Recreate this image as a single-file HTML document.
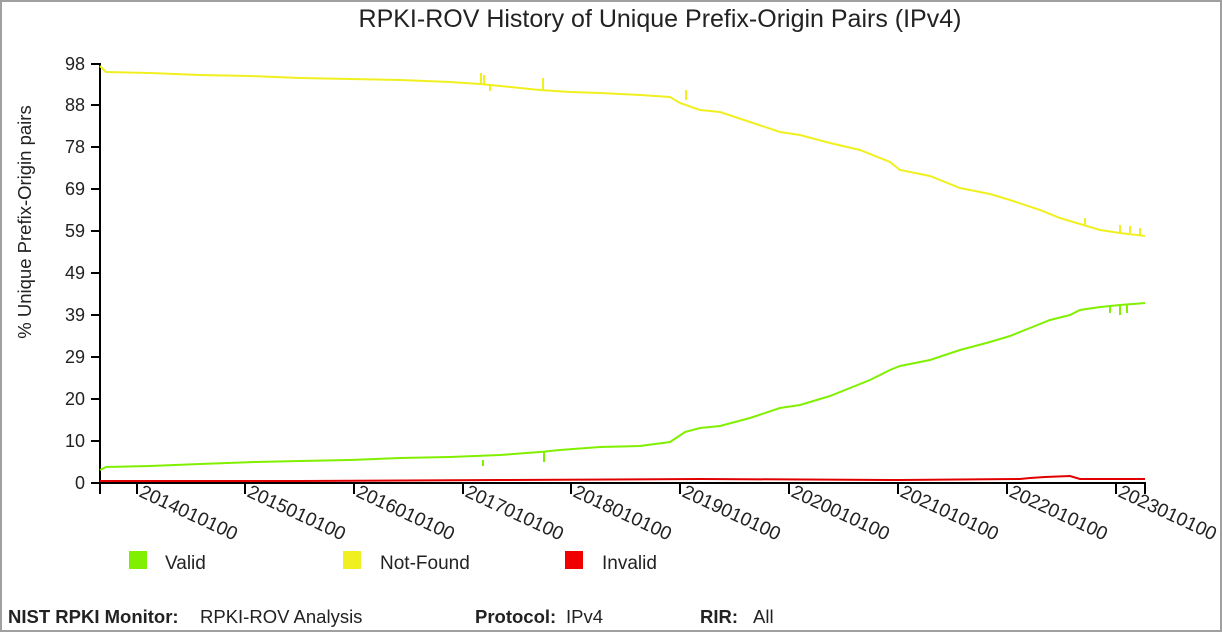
<!DOCTYPE html>
<html><head><style>
html,body{margin:0;padding:0;background:#fff}
body{width:1222px;height:632px;overflow:hidden;position:relative}
.frame{position:absolute;left:0;top:0;width:1218px;height:628px;border:2px solid #a0a0a0}
svg{position:absolute;left:0;top:0}
text{font-family:"Liberation Sans",Arial,sans-serif;fill:#222}
</style></head><body>
<div class="frame"></div>
<svg width="1222" height="632" viewBox="0 0 1222 632">
<text x="660" y="27" font-size="25" text-anchor="middle">RPKI-ROV History of Unique Prefix-Origin Pairs (IPv4)</text>
<text transform="translate(31,222) rotate(-90)" font-size="18.5" text-anchor="middle">% Unique Prefix-Origin pairs</text>
<g stroke="#000" stroke-width="2" fill="none">
<line x1="100" y1="63" x2="100" y2="494"/>
<line x1="99" y1="483" x2="1146" y2="483"/>
<path d="M91 64H100M91 105H100M91 147H100M91 189H100M91 231H100M91 273H100M91 315H100M91 357H100M91 399H100M91 441H100M91 483H100"/>
<path d="M137 483V494M245 483V494M354 483V494M463 483V494M571 483V494M680 483V494M789 483V494M898 483V494M1007 483V494M1116 483V494M1145 483V494"/>
</g>
<g font-size="18" text-anchor="end">
<text x="85" y="70">98</text><text x="85" y="111">88</text><text x="85" y="153">78</text><text x="85" y="195">69</text><text x="85" y="237">59</text><text x="85" y="279">49</text><text x="85" y="321">39</text><text x="85" y="363">29</text><text x="85" y="405">20</text><text x="85" y="447">10</text><text x="85" y="489">0</text>
</g>
<g font-size="19">
<text transform="translate(138,496) rotate(25)">2014010100</text>
<text transform="translate(246,496) rotate(25)">2015010100</text>
<text transform="translate(355,496) rotate(25)">2016010100</text>
<text transform="translate(464,496) rotate(25)">2017010100</text>
<text transform="translate(572,496) rotate(25)">2018010100</text>
<text transform="translate(681,496) rotate(25)">2019010100</text>
<text transform="translate(790,496) rotate(25)">2020010100</text>
<text transform="translate(899,496) rotate(25)">2021010100</text>
<text transform="translate(1008,496) rotate(25)">2022010100</text>
<text transform="translate(1117,496) rotate(25)">2023010100</text>
</g>
<polyline fill="none" stroke="#f0f020" stroke-width="2" points="100,66 106,72 150,73 200,75 250,76 300,78 350,79 400,80 450,82 480,84 520,88 540,90 570,92 600,93 640,95 670,97 680,103 700,110 720,112 750,122 780,132 800,135 830,143 860,150 890,162 900,170 930,176 960,188 990,194 1010,200 1040,210 1060,218 1080,224 1100,230 1120,233 1145,236"/>
<path d="M481 84V73M484 84V75M543 90V78M490 84V91M686 100V90M1085 225V218M1120 233V225M1130 233V226M1140 236V228" stroke="#f0f020" stroke-width="2"/>
<polyline fill="none" stroke="#80f000" stroke-width="2" points="100,470 106,467 150,466 200,464 255,462 300,461 350,460 400,458 450,457 500,455 540,452 560,450 600,447 640,446 670,442 685,432 700,428 720,426 750,418 780,408 800,405 830,396 850,388 870,380 890,370 900,366 930,360 960,350 990,342 1010,336 1030,328 1050,320 1070,315 1080,310 1100,307 1120,305 1145,303"/>
<path d="M483 460V466M544 452V462M1110 305V313M1120 305V315M1127 305V313" stroke="#80f000" stroke-width="2"/>
<polyline fill="none" stroke="#e00000" stroke-width="2" points="100,481 300,481 500,480 700,479 900,480 1020,479 1030,478 1045,477 1070,476 1080,479 1145,479"/>
<rect x="129" y="551" width="18" height="18" fill="#80f000"/>
<text x="165" y="569" font-size="19">Valid</text>
<rect x="343" y="551" width="18" height="18" fill="#f0f020"/>
<text x="380" y="569" font-size="19">Not-Found</text>
<rect x="565" y="551" width="18" height="18" fill="#f00000"/>
<text x="602" y="569" font-size="19">Invalid</text>
<g font-size="18.5">
<text x="8" y="623" font-weight="bold">NIST RPKI Monitor:</text>
<text x="200" y="623">RPKI-ROV Analysis</text>
<text x="475" y="623" font-weight="bold">Protocol:</text>
<text x="566" y="623">IPv4</text>
<text x="700" y="623" font-weight="bold">RIR:</text>
<text x="753" y="623">All</text>
</g>
</svg>
</body></html>
